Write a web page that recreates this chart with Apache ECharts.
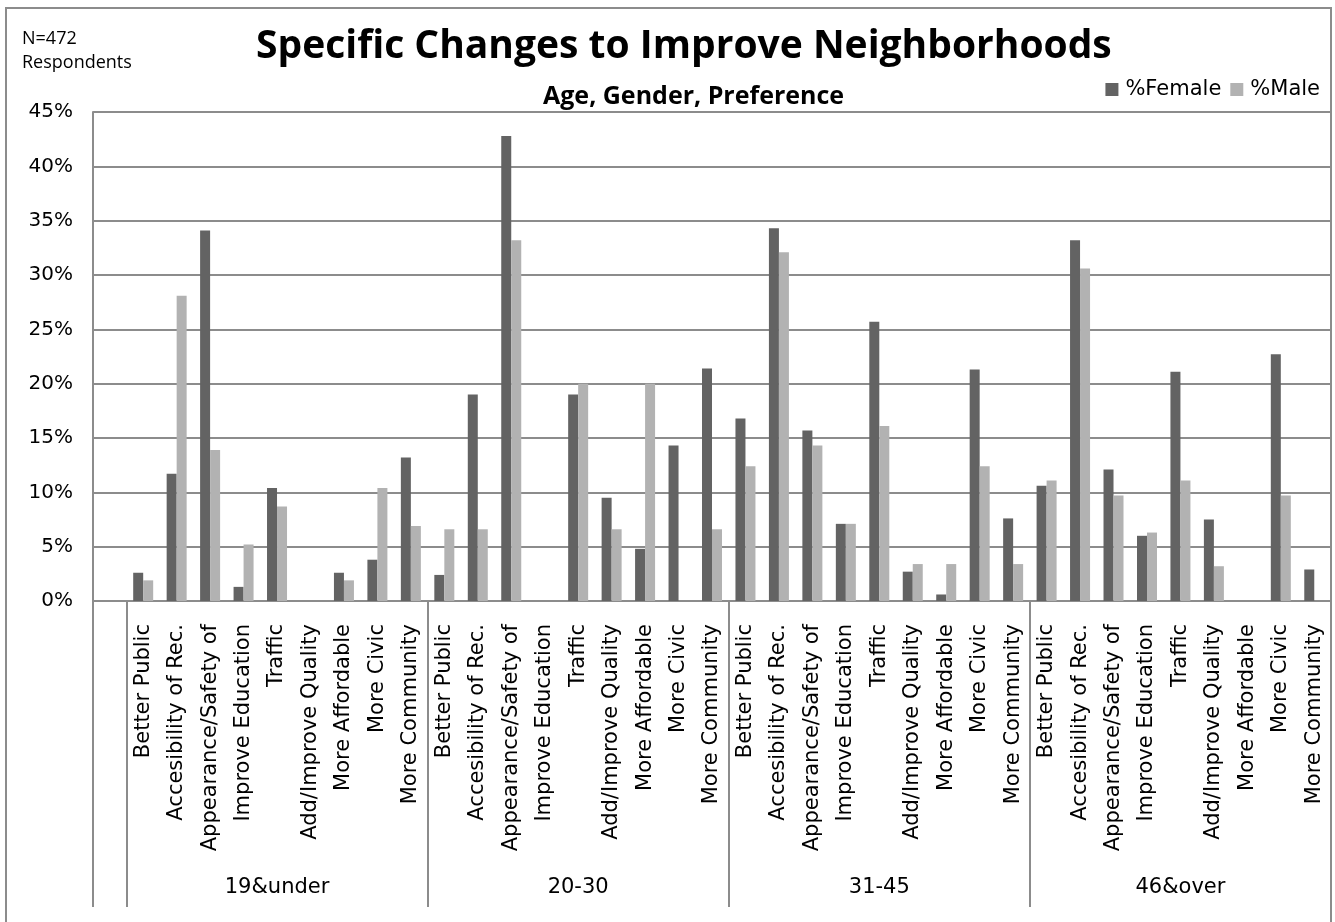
<!DOCTYPE html>
<html>
<head>
<meta charset="utf-8">
<script src="https://cdn.jsdelivr.net/npm/echarts@6/dist/echarts.min.js"></script>
<style>
html,body{margin:0;padding:0;background:#fff;}
#chart{width:1335px;height:922px;}
</style>
</head>
<body>
<div id="chart"></div>
<script>
// ---- data ----
const groups = ['19&under', '20-30', '31-45', '46&over'];
const items = ['Better Public', 'Accesibility of Rec.', 'Appearance/Safety of', 'Improve Education', 'Traffic', 'Add/Improve Quality', 'More Affordable', 'More Civic', 'More Community'];
const female19 = [2.6, 11.7, 34.1, 1.3, 10.4, 0, 2.6, 3.8, 13.2];
const male19   = [1.9, 28.1, 13.9, 5.2, 8.7, 0, 1.9, 10.4, 6.9];
const female20 = [2.4, 19.0, 42.8, 0, 19.0, 9.5, 4.8, 14.3, 21.4];
const male20   = [6.6, 6.6, 33.2, 0, 20.0, 6.6, 20.0, 0, 6.6];
const female31 = [16.8, 34.3, 15.7, 7.1, 25.7, 2.7, 0.6, 21.3, 7.6];
const male31   = [12.4, 32.1, 14.3, 7.1, 16.1, 3.4, 3.4, 12.4, 3.4];
const female46 = [10.6, 33.2, 12.1, 6.0, 21.1, 7.5, 0, 22.7, 2.9];
const male46   = [11.1, 30.6, 9.7, 6.3, 11.1, 3.2, 0, 9.7, 0];
const yTicks = [0, 5, 10, 15, 20, 25, 30, 35, 40, 45];

// ---- build ----
const cats = [''];
const groupRow = [''];
groups.forEach(g => items.forEach((it, i) => { cats.push(it); groupRow.push(i === 4 ? g : ''); }));
const femaleAll = [null].concat(female19, female20, female31, female46);
const maleAll = [null].concat(male19, male20, male31, male46);

const grey = '#8c8c8c';
const chart = echarts.init(document.getElementById('chart'), null, {renderer: 'canvas'});
chart.setOption({
  animation: false,
  backgroundColor: '#fff',
  title: [
    {text: 'Specific Changes to Improve Neighborhoods', left: 251, top: 22,
     textStyle: {fontFamily: 'Open Sans', fontWeight: 'bold', fontSize: 39, color: '#000'}},
    {text: 'Age, Gender, Preference', left: 538, top: 79,
     textStyle: {fontFamily: 'Open Sans', fontWeight: 'bold', fontSize: 25, color: '#000'}},
    {text: 'N=472\nRespondents', left: 17, top: 22,
     textStyle: {fontFamily: 'Open Sans', fontWeight: 'normal', fontSize: 18, lineHeight: 24, color: '#000'}}
  ],
  graphic: [{type: 'rect', shape: {x: 6, y: 8, width: 1325, height: 930}, style: {fill: 'none', stroke: grey, lineWidth: 2}, silent: true}],
  legend: {right: 10, top: 74, itemWidth: 13, itemHeight: 13, itemGap: 9, icon: 'rect',
    textStyle: {fontFamily: 'DejaVu Sans', fontSize: 21, color: '#000', padding: [0, 0, 0, 2]},
    data: ['%Female', '%Male']},
  grid: {left: 93, right: 4, top: 112, bottom: 321, containLabel: false},
  xAxis: [
    {type: 'category', data: cats, position: 'bottom',
     axisLine: {show: true, lineStyle: {color: grey, width: 2}},
     axisTick: {show: false},
     axisLabel: {interval: 0, rotate: 90, margin: 23, fontFamily: 'DejaVu Sans', fontSize: 21, color: '#000'}},
    {type: 'category', data: groupRow, position: 'bottom', offset: 0,
     axisLine: {show: false},
     axisTick: {show: true, length: 306, interval: (i) => i === 0 || (i - 1) % 9 === 0, lineStyle: {color: grey, width: 2}},
     axisLabel: {interval: 0, margin: 276, fontFamily: 'DejaVu Sans', fontSize: 21, color: '#000'}}
  ],
  yAxis: {type: 'value', min: 0, max: 45, interval: 5,
    axisLine: {show: true, lineStyle: {color: grey, width: 2}},
    axisTick: {show: false},
    splitLine: {lineStyle: {color: grey, width: 2}},
    axisLabel: {formatter: v => v + '%', margin: 20, fontFamily: 'DejaVu Sans', fontSize: 20, color: '#000'}},
  series: [
    {name: '%Female', type: 'bar', data: femaleAll, barWidth: 10, barGap: '0%', itemStyle: {color: '#636363'}},
    {name: '%Male', type: 'bar', data: maleAll, barWidth: 10, barGap: '0%', itemStyle: {color: '#b2b2b2'}}
  ]
});
</script>
</body>
</html>
